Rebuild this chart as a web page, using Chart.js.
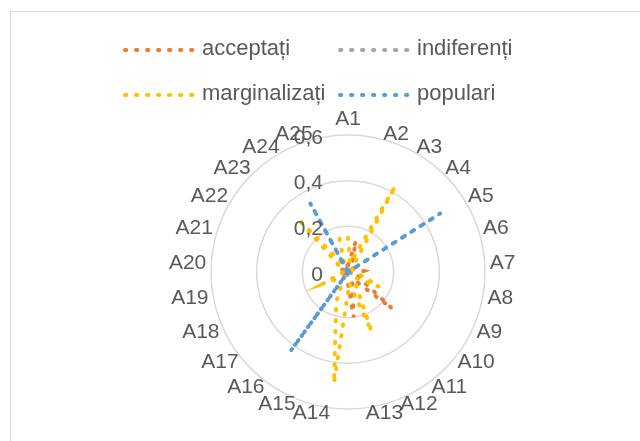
<!DOCTYPE html>
<html>
<head>
<meta charset="utf-8">
<script src="https://cdn.jsdelivr.net/npm/chart.js@4.4.1/dist/chart.umd.min.js"></script>
<style>
  html, body { margin: 0; padding: 0; background: #ffffff; }
  #wrap { position: relative; width: 640px; height: 441px; overflow: hidden; }
  #frame { position: absolute; left: 10px; top: 11px; width: 700px; height: 500px; border: 1.5px solid #d9d9d9; box-sizing: border-box; }
  canvas { position: absolute; left: 0; top: 0; }
</style>
</head>
<body>
<div id="wrap">
  <div id="frame"></div>
  <canvas id="c" width="640" height="441"></canvas>
</div>
<script>
const categories = ['A1','A2','A3','A4','A5','A6','A7','A8','A9','A10','A11','A12','A13','A14','A15','A16','A17','A18','A19','A20','A21','A22','A23','A24','A25'];
const seriesNames = ['acceptați', 'indiferenți', 'marginalizați', 'populari'];
const acceptati =     [0.03,0.14,0.03,0.02,0.03,0.04,0.07,0.04,0.05,0.25,0.04,0.05,0.20,0.03,0.02,0.02,0.02,0.03,0.02,0.02,0.03,0.02,0.03,0.02,0.03];
const indiferenti =   [0.01,0.01,0.02,0.01,0.01,0.02,0.01,0.01,0.02,0.01,0.01,0.02,0.01,0.01,0.02,0.01,0.01,0.02,0.01,0.01,0.02,0.01,0.01,0.02,0.01];
const marginalizati = [0.15,0.04,0.43,0.03,0.02,0.03,0.04,0.05,0.15,0.04,0.05,0.28,0.05,0.49,0.14,0.03,0.04,0.12,0.03,0.02,0.03,0.04,0.32,0.03,0.15];
const populari =      [0,0,0,0,0.48,0,0,0,0,0,0,0,0,0,0,0.43,0,0,0,0,0,0,0,0.345,0];
const tickValues = [0, 0.2, 0.4, 0.6];

const colors = ['#ED7D31', '#A5A5A5', '#FFC000', '#5B9BD5'];
const seriesData = [acceptati, indiferenti, marginalizati, populari];
const FONT = '"Liberation Sans", Arial, sans-serif';
const TEXT = '#595959';
const DASH = [1.3, 9.7];
const LW = 4;

function dotted(i) {
  return {
    label: seriesNames[i],
    data: seriesData[i],
    borderColor: colors[i],
    backgroundColor: colors[i],
    borderWidth: LW,
    borderDash: DASH,
    borderCapStyle: 'round',
    pointRadius: 0,
    pointHoverRadius: 0,
    fill: false,
    tension: 0,
    order: 4 - i
  };
}

const labelPlugin = {
  id: 'excelLabels',
  afterDraw(chart) {
    const ctx = chart.ctx;
    const scale = chart.scales.r;
    ctx.save();
    // point labels
    ctx.font = '21px ' + FONT;
    ctx.fillStyle = TEXT;
    const n = chart.data.labels.length;
    for (let i = 0; i < n; i++) {
      const p = scale.getPointPosition(i, scale.drawingArea + 5);
      const deg = Math.round(i * 360 / n * 100) / 100;
      let align = 'left';
      if (deg === 0 || deg === 180) align = 'center';
      else if (deg > 180) align = 'right';
      let base = 'middle';
      if (deg === 0) base = 'bottom';
      ctx.textAlign = align;
      ctx.textBaseline = base;
      ctx.fillText(chart.data.labels[i], p.x, p.y);
    }
    // tick labels
    ctx.textAlign = 'right';
    ctx.textBaseline = 'middle';
    tickValues.forEach(v => {
      const d = scale.getDistanceFromCenterForValue(v);
      const txt = v === 0 ? '0' : String(v).replace('.', ',');
      ctx.fillText(txt, scale.xCenter - 25, scale.yCenter - d + 3);
    });
    // legend
    const cols = [123, 338];
    const rows = [50, 95];
    chart.data.datasets.forEach((ds, i) => {
      const x = cols[i % 2];
      const y = rows[Math.floor(i / 2)];
      ctx.save();
      ctx.strokeStyle = ds.borderColor;
      ctx.lineWidth = LW;
      ctx.lineCap = 'round';
      ctx.setLineDash(DASH);
      ctx.beginPath();
      ctx.moveTo(x + 2, y);
      ctx.lineTo(x + 72, y);
      ctx.stroke();
      ctx.restore();
      ctx.font = '22px ' + FONT;
      ctx.fillStyle = TEXT;
      ctx.textAlign = 'left';
      ctx.textBaseline = 'middle';
      ctx.fillText(ds.label, x + 79, y - 1);
    });
    ctx.restore();
  }
};

new Chart(document.getElementById('c'), {
  type: 'radar',
  data: {
    labels: categories,
    datasets: [dotted(0), dotted(1), dotted(2), dotted(3)]
  },
  options: {
    responsive: false,
    animation: false,
    devicePixelRatio: 1,
    layout: { padding: { left: 211, right: 155, top: 135, bottom: 32 } },
    plugins: {
      legend: { display: false },
      tooltip: { enabled: false },
      title: { display: false }
    },
    elements: { line: { tension: 0 } },
    scales: {
      r: {
        min: 0,
        max: 0.6,
        beginAtZero: true,
        ticks: { display: false, stepSize: 0.2 },
        grid: { color: '#d9d9d9', lineWidth: 1.5, circular: true },
        angleLines: { display: false },
        pointLabels: { display: false }
      }
    }
  },
  plugins: [labelPlugin]
});
</script>
</body>
</html>
